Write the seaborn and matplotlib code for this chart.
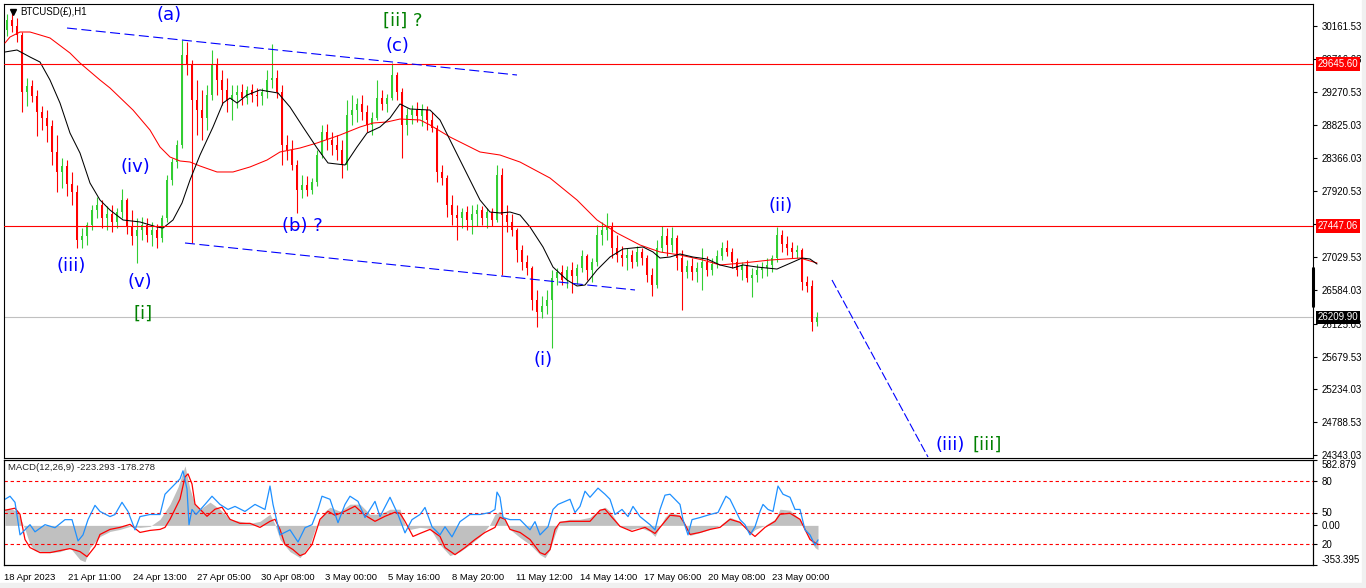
# BTCUSD H1 wave count chart, redrawn with seaborn / matplotlib
import numpy as np
import matplotlib
matplotlib.use("Agg")
import matplotlib.pyplot as plt
import matplotlib.transforms as mtransforms
from matplotlib.patches import Rectangle
import seaborn as sns

# ---------------------------------------------------------
# Price candles (5-hour blocks)
# ---------------------------------------------------------
opens = [
    30107, 30243, 30161, 30039, 29266, 29348, 29212, 28995, 28914, 28805,
    28453, 28182, 28263, 28019, 27910, 27260, 27314, 27463, 27666, 27734,
    27558, 27612, 27504, 27639, 27802, 27449, 27314, 27395, 27463, 27327,
    27395, 27287, 27558, 28073, 28317, 28548, 29768, 29633, 29158, 29022,
    28914, 29226, 29633, 29429, 29294, 29158, 29226, 29266, 29185, 29294,
    29226, 29212, 29266, 29429, 29456, 29266, 28548, 28480, 28277, 27938,
    28005, 27938, 28046, 28412, 28724, 28616, 28548, 28480, 28277, 28955,
    29022, 29104, 28995, 28819, 28914, 29185, 29104, 29185, 29497, 29266,
    28819, 28955, 29022, 28941, 29022, 28887, 28778, 28182, 28100, 27734,
    27599, 27558, 27639, 27531, 27612, 27666, 27558, 27639, 27531, 28141,
    27599, 27504, 27395, 27124, 26961, 26880, 26446, 26283, 26365, 26446,
    26744, 26826, 26717, 26853, 26771, 26880, 27043, 26853, 26961, 27327,
    27395, 27449, 27151, 27056, 27015, 27056, 26961, 27097, 27015, 26785,
    26649, 27151, 27314, 27192, 27287, 27015, 26826, 26907, 26826, 26880,
    26961, 26853, 26934, 27043, 27151, 27097, 26961, 26853, 26921, 26744,
    26785, 26853, 26880, 26921, 27015, 27327, 27205, 27151, 27097, 27124,
    26690, 26636, 26148,
]
highs = [
    30324, 30351, 30270, 30080, 29456, 29429, 29294, 29077, 29022, 28887,
    28683, 28371, 28344, 28182, 28005, 27422, 27504, 27734, 27843, 27802,
    27721, 27734, 27694, 27951, 27829, 27666, 27558, 27571, 27558, 27504,
    27477, 27599, 28141, 28371, 28616, 29972, 29944, 29700, 29429, 29294,
    29361, 29836, 29727, 29565, 29456, 29361, 29361, 29375, 29348, 29375,
    29321, 29321, 29565, 29917, 29565, 29361, 28683, 28616, 28344, 28141,
    28127, 28100, 28480, 28819, 28833, 28724, 28683, 28616, 29158, 29226,
    29185, 29226, 29090, 28995, 29429, 29294, 29239, 29660, 29538, 29321,
    29050, 29090, 29131, 29104, 29077, 28995, 28819, 28277, 28141, 27870,
    27734, 27694, 27721, 27734, 27748, 27721, 27694, 27694, 28277, 28236,
    27734, 27612, 27422, 27192, 27056, 26907, 26582, 26500, 26582, 26853,
    26880, 26921, 26907, 26961, 26934, 27124, 27070, 27015, 27463, 27504,
    27626, 27504, 27327, 27178, 27151, 27124, 27178, 27151, 27056, 26880,
    27260, 27449, 27422, 27436, 27327, 27124, 26988, 27015, 26961, 27151,
    27043, 27015, 27124, 27232, 27260, 27151, 27015, 26961, 26988, 26880,
    26934, 26961, 27015, 27056, 27436, 27395, 27314, 27232, 27192, 27151,
    26771, 26717, 26283,
]
lows = [
    30026, 30080, 29944, 28995, 29077, 29131, 28670, 28751, 28588, 28277,
    27910, 27965, 27856, 27734, 27151, 27151, 27192, 27395, 27558, 27422,
    27395, 27368, 27422, 27558, 27341, 27192, 26948, 27260, 27232, 27178,
    27151, 27232, 27504, 28005, 28236, 28507, 29497, 27219, 28683, 28616,
    28751, 29158, 29226, 29090, 28995, 28887, 29050, 29090, 29104, 29131,
    29077, 29090, 29185, 29321, 29185, 28277, 28344, 28209, 27626, 27829,
    27856, 27883, 27992, 28371, 28480, 28412, 28344, 28100, 28209, 28819,
    28860, 28887, 28724, 28683, 28887, 29022, 28995, 29158, 29158, 28371,
    28683, 28833, 28860, 28805, 28751, 28724, 28046, 28005, 27571, 27463,
    27260, 27422, 27395, 27341, 27449, 27463, 27422, 27449, 27504, 26785,
    27368, 27314, 26961, 26853, 26785, 26310, 26080, 26202, 26256, 25795,
    26649, 26649, 26609, 26541, 26663, 26826, 26717, 26690, 26907, 27192,
    27260, 27015, 26961, 26907, 26853, 26880, 26907, 26921, 26690, 26500,
    26609, 27097, 27043, 27097, 26853, 26310, 26744, 26717, 26690, 26582,
    26771, 26785, 26880, 26988, 27043, 26880, 26771, 26717, 26690, 26487,
    26690, 26744, 26771, 26826, 26961, 27097, 27056, 27015, 27015, 26582,
    26554, 26026, 26093,
]
closes = [
    30243, 30161, 30039, 29266, 29348, 29212, 28995, 28914, 28805, 28453,
    28182, 28263, 28019, 27910, 27260, 27314, 27463, 27666, 27734, 27558,
    27612, 27504, 27639, 27802, 27449, 27314, 27395, 27463, 27327, 27395,
    27287, 27558, 28073, 28317, 28548, 29768, 29633, 29158, 29022, 28914,
    29226, 29633, 29429, 29294, 29158, 29226, 29266, 29185, 29294, 29226,
    29212, 29266, 29429, 29456, 29266, 28548, 28480, 28277, 27938, 28005,
    27938, 28046, 28412, 28724, 28616, 28548, 28480, 28277, 28955, 29022,
    29104, 28995, 28819, 28914, 29185, 29104, 29185, 29497, 29266, 28819,
    28955, 29022, 28941, 29022, 28887, 28778, 28182, 28100, 27734, 27599,
    27558, 27639, 27531, 27612, 27666, 27558, 27639, 27531, 28141, 27599,
    27504, 27395, 27124, 26961, 26880, 26446, 26283, 26365, 26446, 26744,
    26826, 26717, 26853, 26771, 26880, 27043, 26853, 26961, 27327, 27395,
    27449, 27151, 27056, 27015, 27056, 26961, 27097, 27015, 26785, 26649,
    27151, 27314, 27192, 27287, 27015, 26826, 26907, 26826, 26880, 26961,
    26853, 26934, 27043, 27151, 27097, 26961, 26853, 26921, 26744, 26785,
    26853, 26880, 26921, 27015, 27327, 27205, 27151, 27097, 27124, 26690,
    26636, 26148, 26210,
]

# ---------------------------------------------------------
# Moving averages (bar index = hours from chart start)
# ---------------------------------------------------------
ma_slow_bar = [1, 6, 16, 26, 36, 46, 66, 76, 96, 106, 129, 146, 156, 166, 176, 186,
               196, 213, 229, 246, 263, 276, 296, 313, 336, 356, 369, 383, 396, 416,
               426, 446, 476, 496, 516, 546, 573, 593, 613, 636, 656, 676, 699, 716,
               739, 766, 796, 813]
ma_slow = [29931, 30012, 30080, 30080, 30040, 29999, 29795, 29660, 29429, 29321,
           29022, 28751, 28521, 28385, 28331, 28317, 28263, 28182, 28182, 28250,
           28344, 28453, 28507, 28575, 28683, 28792, 28846, 28860, 28900, 28887,
           28819, 28656, 28453, 28412, 28317, 28100, 27802, 27531, 27354, 27192,
           27097, 27056, 26988, 26921, 26948, 26988, 27015, 26948]

ma_fast_bar = [1, 13, 26, 36, 46, 56, 66, 76, 86, 96, 106, 119, 136, 153, 159, 169,
               178, 186, 196, 209, 219, 226, 233, 243, 256, 274, 286, 299, 313, 324,
               341, 353, 363, 376, 386, 396, 406, 426, 436, 446, 456, 466, 476, 486,
               496, 506, 516, 526, 539, 549, 563, 573, 581, 593, 606, 619, 639, 649,
               656, 666, 676, 689, 703, 716, 729, 739, 753, 773, 789, 798, 806, 813]
ma_fast = [29809, 29836, 29741, 29673, 29429, 29117, 28710, 28439, 28032, 27802,
           27666, 27531, 27504, 27436, 27422, 27531, 27761, 28073, 28412, 28792,
           29117, 29185, 29117, 29226, 29294, 29253, 29063, 28792, 28507, 28304,
           28277, 28521, 28710, 28792, 28914, 29104, 29036, 29022, 28887, 28616,
           28344, 28073, 27802, 27639, 27626, 27639, 27599, 27436, 27165, 26893,
           26717, 26636, 26649, 26853, 27029, 27138, 27165, 27097, 27015, 27029,
           27070, 27029, 27002, 26921, 26880, 26921, 26893, 26866, 26961, 27015,
           27002, 26934]

# ---------------------------------------------------------
# MACD window: histogram, signal and 0-100 oscillator
# ---------------------------------------------------------
macd_bar = [1, 8, 13, 16, 21, 26, 31, 46, 56, 66, 76, 81, 86, 96, 106, 116, 126,
            136, 146, 156, 166, 174, 181, 186, 191, 196, 206, 216, 226, 236, 246,
            256, 266, 271, 276, 286, 296, 306, 311, 316, 321, 326, 336, 346, 356,
            366, 376, 386, 396, 401, 406, 416, 426, 436, 446, 456, 466, 476, 486,
            491, 496, 501, 506, 516, 526, 536, 541, 546, 551, 556, 566, 576, 586,
            596, 601, 606, 616, 626, 636, 646, 651, 656, 661, 666, 676, 681, 686,
            696, 706, 716, 721, 726, 736, 746, 751, 761, 771, 776, 786, 796, 801,
            806, 811, 814]
macd_main = [144, 144, 126, 72, -36, -171, -225, -243, -234, -198, -306, -324,
             -198, -99, -54, -36, -9, -18, -9, 54, 189, 342, 531, 324, 189, 144,
             207, 144, 54, 36, 18, 36, 99, 9, -126, -234, -288, -171, -36, 54,
             126, 162, 126, 189, 189, 99, 99, 144, 144, 9, -36, -18, -27, -171,
             -270, -234, -171, -99, 9, 99, 126, 54, -36, -108, -171, -261, -288,
             -216, -81, 36, 54, 54, 72, 144, 162, 126, -9, -36, -18, -54, -99,
             -9, 72, 117, 90, -18, -90, -63, -36, 0, 36, 72, 36, -81, -36, 0,
             54, 144, 135, 54, -36, -126, -198, -216]

signal_bar = [1, 11, 16, 21, 26, 36, 46, 56, 66, 76, 83, 91, 96, 106, 116, 126,
              136, 146, 156, 161, 166, 171, 176, 181, 184, 188, 191, 196, 203, 211,
              218, 226, 236, 246, 256, 266, 271, 276, 281, 289, 296, 301, 308, 316,
              324, 331, 341, 351, 361, 371, 381, 391, 396, 401, 409, 416, 426, 436,
              441, 451, 461, 471, 481, 491, 496, 501, 506, 516, 526, 536, 541, 546,
              551, 556, 566, 576, 586, 596, 601, 608, 616, 628, 641, 651, 661, 666,
              676, 681, 686, 696, 706, 716, 726, 736, 746, 751, 761, 771, 776, 786,
              796, 801, 806, 814]
macd_signal = [135, 153, 99, -126, -198, -243, -243, -225, -207, -234, -279, -189,
               -81, -36, -18, 9, -63, -45, -36, -18, 54, 144, 234, 432, 459, 369,
               189, 144, 81, 144, 162, 54, 18, 18, -18, 36, 54, -36, -171, -216,
               -270, -252, -171, 54, 126, 90, 126, 171, 90, 36, 81, 117, 108, 36,
               -99, -72, -36, -99, -198, -261, -198, -126, -63, -18, 72, 54, -36,
               -63, -126, -243, -261, -216, -36, 27, 36, 36, 36, 135, 144, 72, -9,
               -54, -18, -72, 36, 90, 81, 9, -81, -63, -36, -18, 54, 27, -63, -99,
               -18, 36, 99, 108, 54, -36, -126, -171]

osc_bar = [1, 6, 11, 16, 21, 26, 31, 41, 51, 61, 68, 74, 79, 84, 91, 96, 106, 111,
           118, 124, 131, 136, 146, 156, 161, 166, 171, 176, 179, 183, 185, 188,
           192, 201, 208, 216, 224, 231, 241, 251, 261, 266, 269, 272, 276, 286,
           294, 301, 308, 314, 318, 326, 334, 341, 346, 354, 361, 371, 376, 386,
           394, 401, 408, 416, 421, 428, 436, 441, 448, 456, 466, 476, 486, 491,
           493, 496, 499, 506, 516, 526, 531, 536, 544, 549, 554, 561, 566, 571,
           576, 581, 586, 594, 601, 606, 611, 618, 624, 629, 636, 646, 651, 656,
           661, 666, 671, 676, 679, 684, 688, 696, 706, 714, 718, 722, 726, 731,
           736, 741, 746, 751, 756, 759, 764, 769, 774, 779, 786, 791, 796, 801,
           806, 811, 814]
osc_value = [62.6, 65.5, 59.7, 28.7, 33.5, 38.4, 31.6, 38.4, 35.5, 43.2, 43.2, 22.9,
             28.7, 43.2, 56.8, 51, 46.1, 48.1, 59.7, 51, 33.5, 46.1, 48.1, 48.1,
             67.4, 72.3, 77.1, 82, 89.7, 72.3, 38.4, 52.9, 48.1, 57.7, 65.5, 57.7,
             52.9, 55.8, 51, 57.7, 52.9, 75.2, 57.7, 45.2, 28.7, 33.5, 21.9, 35.5,
             38.4, 52.9, 65.5, 62.6, 40.3, 57.7, 65.5, 60.6, 45.2, 60.6, 46.1, 64.5,
             48.1, 30.6, 43.2, 48.1, 54.8, 36.4, 28.7, 36.4, 26.8, 41.3, 48.1, 48.1,
             50, 52.9, 69.4, 64.5, 45.2, 43.2, 43.2, 33.5, 41.3, 28.7, 36.4, 52.9,
             57.7, 60.6, 62.6, 50, 55.8, 70.3, 64.5, 73.2, 67.4, 62.6, 48.1, 52.9,
             46.1, 55.8, 46.1, 38.4, 33.5, 52.9, 66.5, 67.4, 62.6, 57.7, 43.2, 28.7,
             43.2, 45.2, 48.1, 50, 57.7, 65.5, 62.6, 52.9, 43.2, 38.4, 28.7, 36.4,
             51, 57.7, 52.9, 51, 75.2, 67.4, 64.5, 52.9, 52.9, 33.5, 28.7, 19, 23.9]
osc_levels = [80, 50, 20]

# ---------------------------------------------------------
# Axis labels and chart objects
# ---------------------------------------------------------
# 27475.03 sits fully under the 27447.06 line box, so only its tick shows
price_ticks = [30161.53, 29716.03, 29270.53, 28825.03, 28366.03, 27920.53, 27475.03,
               27029.53, 26584.03, 26125.03, 25679.53, 25234.03, 24788.53, 24343.03]
price_tick_labels = ["30161.53", "29716.03", "29270.53", "28825.03", "28366.03",
                     "27920.53", "", "27029.53", "26584.03", "26125.03",
                     "25679.53", "25234.03", "24788.53", "24343.03"]
macd_ticks = [582.879, 0.0, -353.395]
macd_tick_labels = ["582.879", "0.00", "-353.395"]

date_tick_bar = [0, 64, 129, 193, 257, 321, 384, 448, 512, 576, 640, 704, 768]
date_tick_labels = ["18 Apr 2023", "21 Apr 11:00", "24 Apr 13:00", "27 Apr 05:00",
                    "30 Apr 08:00", "3 May 00:00", "5 May 16:00", "8 May 20:00",
                    "11 May 12:00", "14 May 14:00", "17 May 06:00", "20 May 08:00",
                    "23 May 00:00"]

resistance_levels = [29645.60, 27447.06]
last_price = 26209.90
last_bar_range = [26880, 26365]

# channel lines and projection (bar, price pairs)
upper_channel_bar = [63, 513]
upper_channel = [30134, 29497]
lower_channel_bar = [181, 631]
lower_channel = [27219, 26582]
projection_bar = [828, 924]
projection = [26717, 24317]

BLUE = "#0000ff"
GREEN = "#008000"
wave_labels = [
    ("(a)", 165, 30311, BLUE),
    ("[ii] ?", 399, 30229, GREEN),
    ("(c)", 393, 29890, BLUE),
    ("(iv)", 131, 28250, BLUE),
    ("(iii)", 67, 26907, BLUE),
    ("(b) ?", 298, 27449, BLUE),
    ("(v)", 136, 26690, BLUE),
    ("[i]", 139, 26256, GREEN),
    ("(ii)", 777, 27721, BLUE),
    ("(i)", 539, 25632, BLUE),
    ("(iii)", 946, 24480, BLUE),
    ("[iii]", 983, 24480, GREEN),
]

# ---------------------------------------------------------
# Figure
# ---------------------------------------------------------
sns.set_style("white")
plt.rcParams["font.family"] = ["Liberation Sans", "DejaVu Sans"]

W, H = 1366, 588
fig = plt.figure(figsize=(W / 100, H / 100), dpi=100)
fig.patch.set_facecolor("white")
fig.patches.append(Rectangle((0, 0), 1, 5 / H, transform=fig.transFigure,
                             color="#f0f0f0", zorder=0))
fig.patches.append(Rectangle((1362 / W, 0), 4 / W, 1, transform=fig.transFigure,
                             color="#f0f0f0", zorder=0))

ax = fig.add_axes([4 / W, 130 / H, 1309 / W, 454 / H])
ax_m = fig.add_axes([4 / W, 23 / H, 1309 / W, 105 / H])
ax_o = ax_m.twinx()

for a in (ax, ax_m, ax_o):
    a.set_xlim(0, 1309)
    for s in a.spines.values():
        s.set_color("black")
        s.set_linewidth(0.8)

ax.set_ylim(24303.5, 30459.8)

# candles
candle_bar = np.arange(len(closes)) * 5 + 3
o = np.array(opens)
c = np.array(closes)
colors = np.where(c >= o, "#32cd32", "#ff0000")
ax.vlines(candle_bar, lows, highs, colors=colors, linewidth=0.8, zorder=2)
ax.bar(candle_bar, c - o, bottom=o, width=2.8, color=colors, linewidth=0, zorder=2)

# moving averages
sns.lineplot(x=ma_slow_bar, y=ma_slow, ax=ax, color="#ff0000", linewidth=0.75, zorder=3)
sns.lineplot(x=ma_fast_bar, y=ma_fast, ax=ax, color="black", linewidth=0.75, zorder=3)

# horizontal levels
ax.axhline(last_price, color="#c0c0c0", linewidth=0.8, zorder=1)
for lvl in resistance_levels:
    ax.axhline(lvl, color="#ff0000", linewidth=0.8, zorder=4)

# channel and projection
ax.plot(upper_channel_bar, upper_channel, color=BLUE, linewidth=0.8,
        dashes=(9, 4), zorder=4)
ax.plot(lower_channel_bar, lower_channel, color=BLUE, linewidth=0.8,
        dashes=(9, 4), zorder=4)
ax.plot(projection_bar, projection, color=BLUE, linewidth=0.8,
        dashes=(8, 2.5), zorder=4, clip_on=False)

for txt, xb, yp, col in wave_labels:
    ax.text(xb, yp, txt, color=col, fontsize=13, ha="center", va="center",
            family="DejaVu Sans", zorder=5)

# chart title
ax.plot([0.0065], [0.983], marker="v", color="black", markersize=4,
        transform=ax.transAxes)
ax.text(16 / 1309, 1 - 8 / 454, "BTCUSD(£),H1", transform=ax.transAxes,
        fontsize=7, va="center", ha="left", color="black")

# right price scale
ax.tick_params(axis="x", bottom=False, labelbottom=False)
ax.yaxis.tick_right()
ax.set_yticks(price_ticks)
ax.set_yticklabels(price_tick_labels)
ax.tick_params(axis="y", direction="out", length=3, width=0.8, pad=3,
               labelsize=7, colors="black")
ax.set_xlabel("")
ax.set_ylabel("")

yt = mtransforms.blended_transform_factory(ax.transAxes, ax.transData)
for lvl in resistance_levels:
    ax.text(1.0035, lvl, f"{lvl:.2f}", transform=yt, fontsize=7, color="white",
            va="center", ha="left", clip_on=False, zorder=10,
            bbox=dict(boxstyle="square,pad=0.18", fc="#ff0000", ec="none"))
ax.text(1.0035, last_price, f"{last_price:.2f}", transform=yt, fontsize=7,
        color="white", va="center", ha="left", clip_on=False, zorder=10,
        bbox=dict(boxstyle="square,pad=0.18", fc="black", ec="none"))
ax.plot([1.0, 1.0], last_bar_range, transform=yt, color="black",
        linewidth=2.2, clip_on=False, zorder=6)

# ---------------------------------------------------------
# MACD window
# ---------------------------------------------------------
ax_m.set_ylim(-353.395, 582.879)
ax_o.set_ylim(0, 100)

ax_m.fill_between(macd_bar, 0, macd_main, color="#c0c0c0", linewidth=0, zorder=1)
sns.lineplot(x=signal_bar, y=macd_signal, ax=ax_m, color="#ff0000",
             linewidth=0.9, zorder=3)
for lvl in osc_levels:
    ax_o.axhline(lvl, color="#ff0000", linewidth=0.8, dashes=(3, 2.5), zorder=1)
sns.lineplot(x=osc_bar, y=osc_value, ax=ax_o, color="#1e90ff",
             linewidth=0.9, zorder=2)

ax_m.text(4 / 1309, 1 - 8 / 105, "MACD(12,26,9) -223.293 -178.278",
          transform=ax_m.transAxes, fontsize=6.8, va="center", ha="left")

ax_m.yaxis.tick_right()
ax_m.set_yticks(macd_ticks)
ax_m.set_yticklabels(macd_tick_labels)
labs = ax_m.get_yticklabels()
labs[0].set_va("top")
labs[-1].set_va("bottom")
ax_m.tick_params(axis="y", direction="out", length=3, width=0.8, pad=3,
                 labelsize=7, colors="black")
ax_o.set_yticks(osc_levels)
ax_o.set_yticklabels([str(v) for v in osc_levels])
ax_o.tick_params(axis="y", direction="out", length=3, width=0.8, pad=3,
                 labelsize=7, colors="black")

ax_m.set_xticks(date_tick_bar)
ax_m.set_xticklabels(date_tick_labels, ha="left")
ax_m.tick_params(axis="x", direction="out", length=4, width=0.8, pad=2,
                 labelsize=6.8, colors="black")
for a in (ax_m, ax_o):
    a.set_xlabel("")
    a.set_ylabel("")

fig.savefig("out.png", dpi=100)
plt.close(fig)
